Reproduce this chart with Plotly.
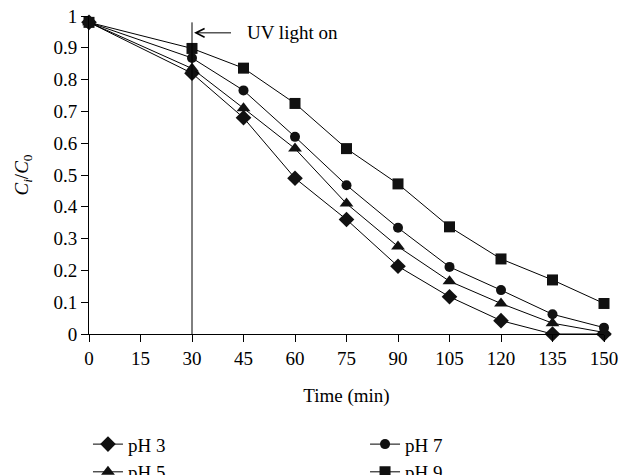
import plotly.graph_objects as go

time_min = [0, 30, 45, 60, 75, 90, 105, 120, 135, 150]
x_ticks = [0, 15, 30, 45, 60, 75, 90, 105, 120, 135, 150]
y_ticks = [0, 0.1, 0.2, 0.3, 0.4, 0.5, 0.6, 0.7, 0.8, 0.9, 1]
y_ticktext = ["0", "0.1", "0.2", "0.3", "0.4", "0.5", "0.6", "0.7", "0.8", "0.9", "1"]
ph3 = [0.98, 0.82, 0.68, 0.49, 0.36, 0.213, 0.117, 0.042, 0.0, 0.0]
ph5 = [0.98, 0.835, 0.71, 0.583, 0.41, 0.275, 0.166, 0.096, 0.034, 0.005]
ph7 = [0.98, 0.868, 0.766, 0.62, 0.468, 0.334, 0.211, 0.138, 0.062, 0.02]
ph9 = [0.98, 0.898, 0.836, 0.725, 0.583, 0.472, 0.337, 0.236, 0.17, 0.096]

series = [("pH 3", ph3, "diamond", 12, "legend"),
          ("pH 5", ph5, "triangle-up", 12, "legend"),
          ("pH 7", ph7, "circle", 10, "legend2"),
          ("pH 9", ph9, "square", 11, "legend2")]

FONT = "Liberation Serif, Times New Roman, serif"

fig = go.Figure()
for name, vals, sym, sz, lg in series:
    fig.add_trace(go.Scatter(
        x=time_min, y=vals, name=name, mode="lines+markers",
        line=dict(color="black", width=1),
        marker=dict(symbol=sym, size=sz, color="#111111"),
        cliponaxis=False, legend=lg))

fig.add_shape(type="line", x0=30, x1=30, y0=0, y1=0.98,
              xref="x", yref="y", line=dict(color="black", width=1))
fig.add_annotation(x=30.6, y=0.947, ax=41.8, ay=0.947, axref="x", ayref="y",
                   xref="x", yref="y", text="", showarrow=True,
                   arrowhead=5, arrowsize=1.7, arrowwidth=1, arrowcolor="black")
fig.add_annotation(x=45.3, y=0.947, xref="x", yref="y", text="UV light on",
                   showarrow=False, xanchor="left",
                   font=dict(family=FONT, size=19, color="black"))

legend_common = dict(orientation="v", yref="paper", xref="paper",
                     y=-0.287, yanchor="top", xanchor="left",
                     itemwidth=30, tracegroupgap=0, bgcolor="rgba(0,0,0,0)",
                     font=dict(family=FONT, size=19, color="black"))

fig.update_layout(
    width=622, height=475,
    margin=dict(l=89, r=18, t=16, b=141, autoexpand=False),
    plot_bgcolor="white", paper_bgcolor="white",
    font=dict(family=FONT, size=18, color="black"),
    showlegend=True,
    legend=dict(x=-0.002, **legend_common),
    legend2=dict(x=0.536, **legend_common),
    xaxis=dict(range=[0, 150], tickmode="array", tickvals=x_ticks,
               ticks="outside", ticklen=7, tickcolor="black", showline=True,
               linecolor="black", linewidth=1, showgrid=False, zeroline=False,
               automargin=False, tickfont=dict(size=19),
               title=dict(text="Time (min)", standoff=20, font=dict(size=19))),
    yaxis=dict(range=[0, 1], tickmode="array", tickvals=y_ticks, ticktext=y_ticktext,
               ticks="outside", ticklen=7, tickcolor="black", showline=True,
               linecolor="black", linewidth=1, showgrid=False, zeroline=False,
               automargin=False, tickfont=dict(size=19),
               title=dict(text="<i>C<sub>i</sub></i>/<i>C</i><sub>0</sub>", standoff=19,
                          font=dict(size=19))),
)

fig.write_html("out.html", config={"displayModeBar": False},
               post_script="document.body.style.margin='0px';document.body.style.overflow='hidden';")
